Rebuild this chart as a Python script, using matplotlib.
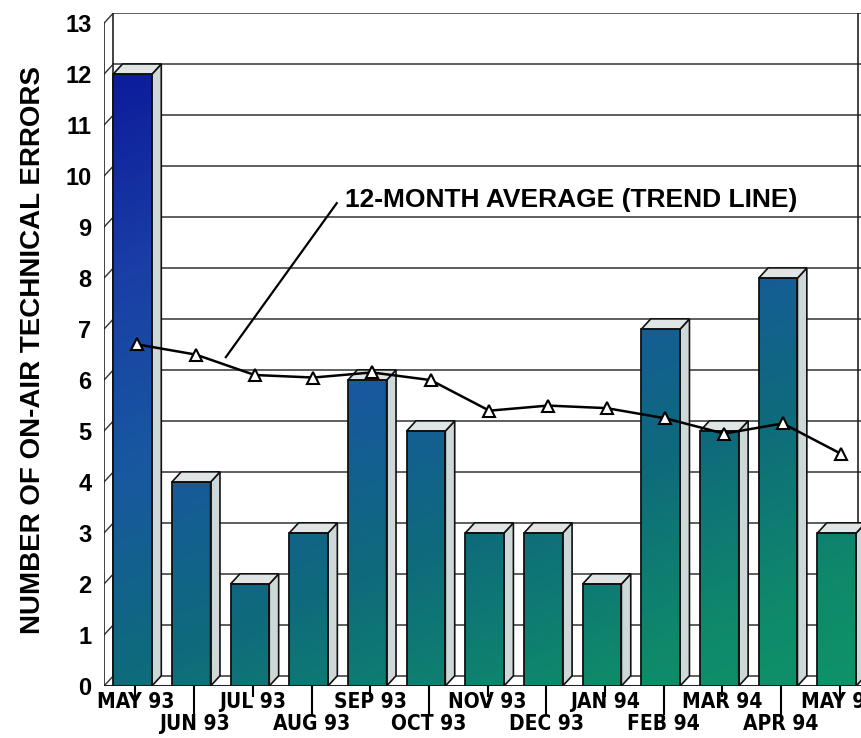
import numpy as np
import matplotlib
matplotlib.use("Agg")
import matplotlib.pyplot as plt
from matplotlib.patches import Polygon, Rectangle
from matplotlib.colors import LinearSegmentedColormap

months = ["MAY 93", "JUN 93", "JUL 93", "AUG 93", "SEP 93", "OCT 93", "NOV 93",
          "DEC 93", "JAN 94", "FEB 94", "MAR 94", "APR 94", "MAY 94"]
errors = [12, 4, 2, 3, 6, 5, 3, 3, 2, 7, 5, 8, 3]
trend = [6.6, 6.4, 6.0, 5.95, 6.05, 5.9, 5.3, 5.4, 5.35, 5.15, 4.85, 5.05, 4.45]
yticks = list(range(0, 14))

# fake 3d depth in data units
DX, DY = 0.16, 0.2
W = 0.66
XL = -0.486
XR = 12.43
YTOP = 13

fig = plt.figure(figsize=(8.62, 7.38), dpi=100)
ax = fig.add_axes([104 / 862, 52 / 738, (862 - 104) / 862, (686 - 13) / 738])
ax.set_xlim(XL, XR)
ax.set_ylim(0, YTOP + DY)
for s in ax.spines.values():
    s.set_visible(False)

# back wall + grid
ax.add_patch(Rectangle((XL + DX, DY), XR - XL, YTOP, fc="white", ec="none", zorder=0))
for k in yticks:
    ax.plot([XL + DX, XR], [k + DY, k + DY], color="#333333", lw=1.1, zorder=1)
    ax.plot([XL, XL + DX], [k, k + DY], color="#333333", lw=1.0, zorder=1)
ax.plot([XL, XL], [0, YTOP], color="#222222", lw=1.2, zorder=1)
ax.plot([XL + DX, XL + DX], [DY, YTOP + DY], color="#222222", lw=1.2, zorder=1)
ax.plot([12.36, 12.36], [DY, YTOP + DY], color="#222222", lw=1.2, zorder=1)
ax.plot([XL, XR], [0, 0], color="#222222", lw=1.5, zorder=1)

cmap = LinearSegmentedColormap.from_list(
    "bars", ["#0d1d9c", "#1a3fa6", "#1858a0", "#0e6a7c", "#0e8a6a", "#109868"])
gx, gy = np.meshgrid(np.linspace(XL, XR, 200), np.linspace(0, YTOP, 200))
shade = 0.62 * (1 - gy / 12) + 0.28 * gx / 12

for i, v in enumerate(errors):
    x0, x1 = i - W / 2, i + W / 2
    front = Rectangle((x0, 0), W, v, fc="none", ec="#111111", lw=1.3, zorder=4)
    ax.add_patch(front)
    im = ax.imshow(shade, cmap=cmap, vmin=0, vmax=1, origin="lower", aspect="auto",
                   extent=[XL, XR, 0, YTOP], zorder=3)
    im.set_clip_path(front)
    side = Polygon([(x1, 0), (x1 + DX, DY), (x1 + DX, v + DY), (x1, v)],
                   fc="#cfd8d8", ec="#111111", lw=1.2, zorder=3)
    top = Polygon([(x0, v), (x0 + DX, v + DY), (x1 + DX, v + DY), (x1, v)],
                  fc="#dfe4e4", ec="#111111", lw=1.2, zorder=3)
    ax.add_patch(side)
    ax.add_patch(top)

# 12-month average drawn at mid depth
xs = np.arange(len(trend)) + DX / 2
ax.plot(xs, np.array(trend) + DY / 2, color="black", lw=1.8, marker="^", ms=9,
        mfc="white", mec="black", mew=1.5, zorder=6)

ax.plot([3.48, 1.59], [9.47, 6.45], color="black", lw=1.6, zorder=6)
ax.text(3.62, 9.53, "12-MONTH AVERAGE (TREND LINE)", fontsize=19, fontweight="bold",
        family="Liberation Sans", va="center", ha="left", zorder=7)

ax.set_ylabel("NUMBER OF ON-AIR TECHNICAL ERRORS", fontsize=20, fontweight="bold",
              family="Liberation Sans", labelpad=14)
ax.set_yticks(yticks, labels=[str(t) for t in yticks], fontsize=17, fontweight="bold",
              family="Liberation Sans")
ax.tick_params(axis="y", length=0, pad=9)

idx = np.arange(len(months))
ax.set_xticks(idx[::2] + 0.05, labels=months[::2], fontsize=15, fontweight="bold",
              family="DejaVu Sans", fontstretch="condensed")
ax.set_xticks(idx[1::2] + 0.05, labels=months[1::2], minor=True, fontsize=15,
              fontweight="bold", family="DejaVu Sans", fontstretch="condensed")
ax.tick_params(axis="x", which="major", length=8, width=1.5, pad=-4)
ax.tick_params(axis="x", which="minor", length=21, width=1.5, pad=-1)

fig.savefig("out.png", dpi=100, facecolor="white")
